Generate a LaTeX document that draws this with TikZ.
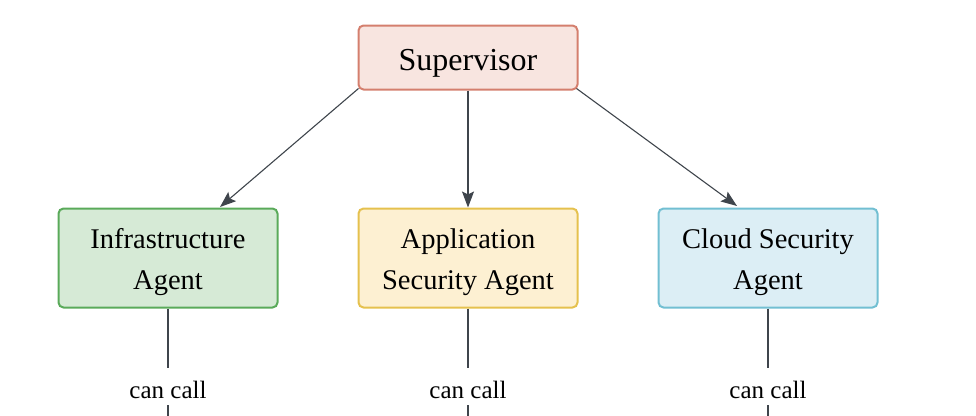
\documentclass[tikz,border=0pt]{standalone}
\usepackage{fontspec}
\setmainfont{Liberation Serif}
\usetikzlibrary{arrows.meta}
\definecolor{supfill}{HTML}{F8E5E0}
\definecolor{supdraw}{HTML}{D47F6E}
\definecolor{infill}{HTML}{D6EAD6}
\definecolor{indraw}{HTML}{5AAA5A}
\definecolor{apfill}{HTML}{FDF0D2}
\definecolor{apdraw}{HTML}{E5C14E}
\definecolor{clfill}{HTML}{DCEEF5}
\definecolor{cldraw}{HTML}{72BFD2}
\definecolor{edgecol}{HTML}{3F454C}
\tikzset{
  x=1pt, y=1pt,
  box/.style={rounded corners=5pt, line width=2pt, minimum width=219pt, align=center, inner sep=0pt},
  supbox/.style={box, fill=supfill, draw=supdraw, minimum height=64pt, font=\fontsize{32}{36}\selectfont, text height=28pt, text depth=2pt},
  agbox/.style={box, minimum height=99pt, font=\fontsize{28.5}{41}\selectfont, text height=62pt, text depth=0pt},
  conn/.style={draw=edgecol, line width=1.1pt},
  arr/.style={conn, -{Stealth[length=16pt, width=12pt, inset=3pt]}},
  lbl/.style={font=\fontsize{25}{30}\selectfont, inner sep=0pt}
}
\begin{document}
\begin{tikzpicture}
\useasboundingbox (0,0) rectangle (976,-415);
\node[supbox] (sup) at (468,-57.5) {Supervisor};
\node[agbox, fill=infill, draw=indraw] (inf) at (168,-258) {Infrastructure\\Agent};
\node[agbox, fill=apfill, draw=apdraw] (app) at (468,-258) {Application\\Security Agent};
\node[agbox, fill=clfill, draw=cldraw] (cld) at (768,-258) {Cloud Security\\Agent};
\draw[arr] (sup.south west) ++(1,2) -- (220,-207);
\draw[arr] (sup.south) -- (app.north);
\draw[arr] (sup.south east) ++(-2,2) -- (737,-206);
\node[lbl] (c1) at (168,-390) {can call};
\node[lbl] (c2) at (468,-390) {can call};
\node[lbl] (c3) at (768,-390) {can call};
\coordinate (e1) at (168,-416);
\coordinate (e2) at (468,-416);
\coordinate (e3) at (768,-416);
\draw[conn] (inf.south) -- (168,-368);
\draw[conn] (app.south) -- (468,-368);
\draw[conn] (cld.south) -- (768,-368);
\draw[conn] (168,-405) -- (e1);
\draw[conn] (468,-405) -- (e2);
\draw[conn] (768,-405) -- (e3);
\end{tikzpicture}
\end{document}
